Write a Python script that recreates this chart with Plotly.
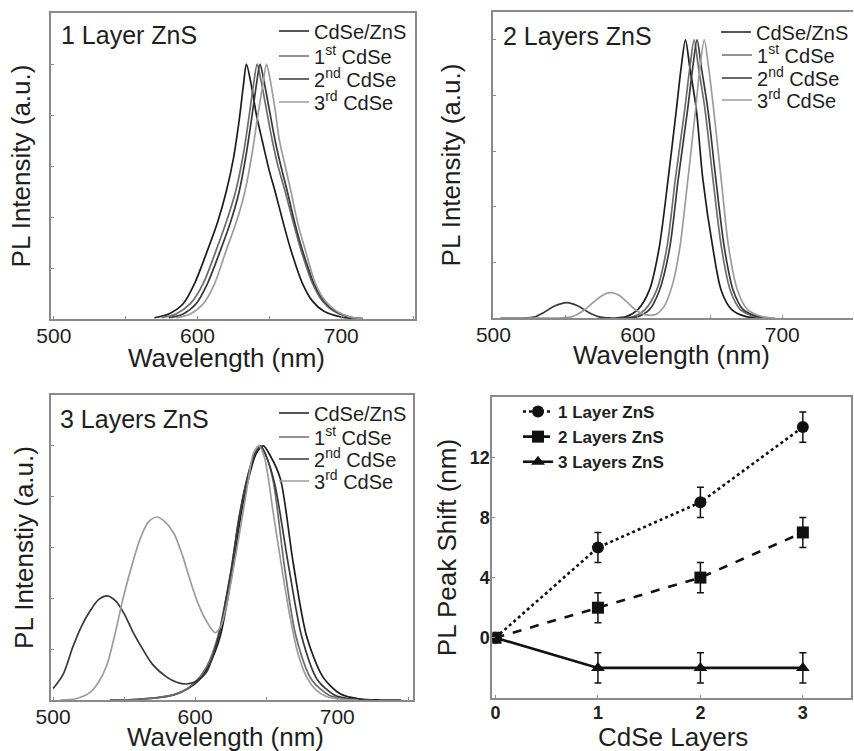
import plotly.graph_objects as go

# ---------------- PL spectra: 1 layer ZnS ----------------
wl_1L_core = [570, 580, 590, 598, 607, 614, 620, 625, 629, 632, 634, 637, 641, 645, 650, 654, 660, 665, 673, 680, 688, 700, 710]
pl_1L_core = [0.005, 0.02, 0.06, 0.14, 0.27, 0.38, 0.50, 0.63, 0.78, 0.92, 1.00, 0.93, 0.80, 0.70, 0.58, 0.50, 0.37, 0.27, 0.14, 0.07, 0.03, 0.008, 0.002]
wl_1L_1st = [575, 585, 595, 604, 613, 620, 626.5, 632, 636, 639, 641.5, 644, 648, 652, 656, 661, 667, 672, 680, 687, 695, 705, 715]
pl_1L_1st = [0.005, 0.02, 0.06, 0.14, 0.27, 0.38, 0.50, 0.65, 0.80, 0.92, 1.00, 0.94, 0.82, 0.70, 0.60, 0.50, 0.37, 0.27, 0.14, 0.07, 0.03, 0.008, 0.002]
wl_1L_2nd = [580, 590, 599, 607, 616, 623, 629, 634, 638, 641, 643.5, 646, 650, 654, 658, 662.5, 668, 673, 681, 688, 696, 706, 715]
pl_1L_2nd = [0.005, 0.02, 0.06, 0.14, 0.27, 0.38, 0.50, 0.65, 0.80, 0.92, 1.00, 0.94, 0.82, 0.70, 0.60, 0.50, 0.37, 0.27, 0.14, 0.07, 0.03, 0.008, 0.002]
wl_1L_3rd = [585, 595, 604, 612, 620, 627, 633, 638, 642, 645.5, 648, 650.5, 654, 657, 661, 665, 670, 675, 682, 689, 697, 706, 715]
pl_1L_3rd = [0.005, 0.02, 0.06, 0.14, 0.27, 0.38, 0.50, 0.65, 0.80, 0.92, 1.00, 0.94, 0.82, 0.70, 0.60, 0.50, 0.37, 0.27, 0.14, 0.07, 0.03, 0.008, 0.002]

# ---------------- PL spectra: 2 layers ZnS ----------------
wl_2L_core = [585, 592, 600, 608, 614.7, 621, 626.7, 630, 633, 636, 640.5, 645, 652, 657.7, 665, 675, 685]
pl_2L_core = [0, 0.005, 0.03, 0.10, 0.25, 0.50, 0.75, 0.90, 1.00, 0.90, 0.75, 0.50, 0.25, 0.10, 0.03, 0.005, 0]
wl_2L_1st = [590, 597, 605, 613, 620, 626, 632.5, 636, 639, 642, 646.5, 652, 658, 664, 671, 681, 690]
pl_2L_1st = [0, 0.005, 0.03, 0.10, 0.25, 0.50, 0.75, 0.90, 1.00, 0.90, 0.75, 0.50, 0.25, 0.10, 0.03, 0.005, 0]
wl_2L_2nd = [505, 520, 528, 535, 542, 551, 559, 566, 574, 582, 593, 600, 608, 615, 622, 628, 634.5, 638, 641, 644, 648.5, 654, 660, 666, 673, 683, 692]
pl_2L_2nd = [0, 0, 0.003, 0.02, 0.042, 0.055, 0.042, 0.02, 0.003, 0, 0, 0.005, 0.03, 0.10, 0.25, 0.50, 0.75, 0.90, 1.00, 0.90, 0.75, 0.50, 0.25, 0.10, 0.03, 0.005, 0]
wl_2L_3rd = [505, 545, 554, 562, 570, 576, 581, 587, 593, 599, 605, 612, 618, 624, 629, 634.7, 640, 643, 646, 649, 652.5, 657.7, 663, 669, 676, 686, 695]
pl_2L_3rd = [0, 0, 0.004, 0.025, 0.06, 0.083, 0.091, 0.082, 0.055, 0.027, 0.012, 0.012, 0.04, 0.12, 0.25, 0.50, 0.75, 0.90, 1.00, 0.90, 0.75, 0.50, 0.25, 0.10, 0.03, 0.005, 0]

# ---------------- PL spectra: 3 layers ZnS ----------------
wl_3L_core = [540, 560, 575, 585, 595, 603, 610, 617.6, 626, 632, 638, 643, 648, 653, 660, 669, 678.5, 690, 702, 715, 730, 745]
pl_3L_core = [0, 0.003, 0.01, 0.02, 0.045, 0.08, 0.14, 0.25, 0.50, 0.72, 0.88, 0.97, 1.00, 0.96, 0.87, 0.54, 0.25, 0.09, 0.025, 0.005, 0, 0]
wl_3L_1st = [540, 560, 575, 590, 600, 608, 616, 625, 631, 637, 642, 646, 650, 655, 663, 671, 682, 694, 708, 725]
pl_3L_1st = [0, 0.003, 0.01, 0.03, 0.07, 0.13, 0.25, 0.50, 0.72, 0.88, 0.97, 1.00, 0.96, 0.86, 0.52, 0.25, 0.08, 0.02, 0.003, 0]
wl_3L_2nd = [500, 507, 514, 520, 526, 532, 538, 544, 550, 556, 561, 570, 580, 587, 594, 601, 608, 616, 625, 631, 637, 642, 646, 650, 656, 666, 675, 686, 698, 712, 725]
pl_3L_2nd = [0.045, 0.10, 0.21, 0.29, 0.35, 0.395, 0.41, 0.39, 0.34, 0.27, 0.22, 0.14, 0.09, 0.07, 0.063, 0.075, 0.11, 0.24, 0.50, 0.72, 0.88, 0.97, 1.00, 0.96, 0.85, 0.52, 0.25, 0.08, 0.02, 0.003, 0]
wl_3L_3rd = [505, 516, 526, 532, 538, 544, 549.5, 555, 561, 567, 573, 579, 585, 591, 596.5, 602, 608, 614, 618, 622, 627, 632, 637, 641, 645, 649, 655, 661, 666.7, 672, 678.5, 685, 692, 702, 715]
pl_3L_3rd = [0, 0.005, 0.03, 0.07, 0.14, 0.27, 0.405, 0.52, 0.63, 0.70, 0.72, 0.70, 0.656, 0.57, 0.47, 0.38, 0.31, 0.265, 0.29, 0.37, 0.52, 0.68, 0.85, 0.97, 1.00, 0.95, 0.735, 0.52, 0.33, 0.19, 0.09, 0.04, 0.015, 0.004, 0]

# ---------------- PL peak shift vs. number of CdSe layers ----------------
cdse_layers = [0, 1, 2, 3]
shift_1L = [0, 6, 9, 14]
shift_2L = [0, 2, 4, 7]
shift_3L = [0, -2, -2, -2]
shift_err = [0, 1, 1, 1]

series_names = ["CdSe/ZnS", "1<sup>st</sup> CdSe", "2<sup>nd</sup> CdSe", "3<sup>rd</sup> CdSe"]
series_colors = ["#1c1c1c", "#6c6c6c", "#383838", "#9c9c9c"]

W, H = 854, 751
FONT = "Liberation Sans, Arial, sans-serif"
TXT = "#1e1e1e"
FRAME = "#8a8a8a"


def px_x(p):
    return p / W


def px_y(p):
    return 1 - p / H


fig = go.Figure()

# one legend box per spectrum entry so the rows sit at fixed heights
panels = [
    ("x", "y", 274, [31, 56, 79, 102],
     [(wl_1L_core, pl_1L_core), (wl_1L_1st, pl_1L_1st), (wl_1L_2nd, pl_1L_2nd), (wl_1L_3rd, pl_1L_3rd)]),
    ("x2", "y2", 717, [32, 55, 78, 100],
     [(wl_2L_core, pl_2L_core), (wl_2L_1st, pl_2L_1st), (wl_2L_2nd, pl_2L_2nd), (wl_2L_3rd, pl_2L_3rd)]),
    ("x3", "y3", 274, [413, 437, 459, 481],
     [(wl_3L_core, pl_3L_core), (wl_3L_1st, pl_3L_1st), (wl_3L_2nd, pl_3L_2nd), (wl_3L_3rd, pl_3L_3rd)]),
]
leg_layout = {}
leg_base = dict(xanchor="left", yanchor="middle", bgcolor="rgba(0,0,0,0)", borderwidth=0,
                itemwidth=30, font=dict(family=FONT, size=20, color=TXT))
n = 0
for xa, ya, lx, rows, curves in panels:
    for (wl, pl), name, col, ry in zip(curves, series_names, series_colors, rows):
        n += 1
        lid = "legend" if n == 1 else f"legend{n}"
        leg_layout[lid] = dict(**leg_base, x=px_x(lx), y=px_y(ry))
        fig.add_trace(go.Scatter(
            x=wl, y=pl, mode="lines", name=name, xaxis=xa, yaxis=ya, legend=lid,
            line=dict(color=col, width=1.7, shape="spline", smoothing=0.8),
            hoverinfo="skip",
        ))

shift_series = [
    ("1 Layer ZnS", shift_1L, "circle", "dot"),
    ("2 Layers ZnS", shift_2L, "square", "dash"),
    ("3 Layers ZnS", shift_3L, "triangle-up", "solid"),
]
for i, (name, vals, sym, dash) in enumerate(shift_series):
    fig.add_trace(go.Scatter(
        x=cdse_layers, y=vals, mode="lines+markers", name=name,
        xaxis="x4", yaxis="y4", legend="legend13", legendgroup=f"g{i}",
        line=dict(color="#111", width=2.6, dash=dash),
        marker=dict(color="#111", size=12, symbol=sym),
        error_y=dict(type="data", array=shift_err, visible=True,
                     thickness=1.5, width=3.5, color="#111"),
    ))
leg_layout["legend13"] = dict(xanchor="left", yanchor="top", bgcolor="rgba(0,0,0,0)", borderwidth=0,
                              itemwidth=30, tracegroupgap=0,
                              font=dict(family=FONT, size=17, color=TXT, weight="bold"),
                              x=px_x(518), y=px_y(394))

axis_common = dict(
    showline=True, mirror=True, linecolor=FRAME, linewidth=2,
    ticks="inside", ticklen=3, tickcolor=FRAME, tickwidth=1,
    showgrid=False, zeroline=False, automargin=False, ticklabelstandoff=-3,
    tickfont=dict(family=FONT, size=21, color=TXT),
    title_font=dict(family=FONT, size=26, color=TXT),
)
bold_ticks = dict(family=FONT, size=18, color=TXT, weight="bold")
wl_ticks = dict(tickvals=[500, 550, 600, 650, 700, 750], ticktext=["500", "", "600", "", "700", ""])
int_ticks = dict(tickvals=[0.2, 0.4, 0.6, 0.8, 1.0], showticklabels=False)

fig.update_layout(
    width=W, height=H, margin=dict(l=0, r=0, t=0, b=0),
    paper_bgcolor="white", plot_bgcolor="white", showlegend=True,
    xaxis=dict(**axis_common, **wl_ticks, domain=[px_x(51), px_x(415)], range=[498, 751], anchor="y"),
    yaxis=dict(**axis_common, **int_ticks, domain=[px_y(319), px_y(13)], range=[0, 1.2],
               anchor="x", title=dict(text="PL Intensity (a.u.)", standoff=11)),
    # the top-right panel runs off the right edge of the page: no right-hand frame line
    xaxis2=dict(**axis_common, **wl_ticks, domain=[px_x(494), 1.0], range=[500, 749], anchor="y2"),
    yaxis2=dict(**{**axis_common, "mirror": False}, **int_ticks, domain=[px_y(318), px_y(12)], range=[0, 1.1],
                anchor="x2", title=dict(text="PL Intensity (a.u.)", standoff=23)),
    xaxis3=dict(**axis_common, **wl_ticks, domain=[px_x(51), px_x(413)], range=[498.5, 753], anchor="y3"),
    yaxis3=dict(**axis_common, **int_ticks, domain=[px_y(700), px_y(395)], range=[0, 1.2],
                anchor="x3", title=dict(text="PL Intenstiy (a.u.)", standoff=8)),
    xaxis4=dict(**{**axis_common, "tickfont": bold_ticks},
                tickvals=[0, 1, 2, 3], domain=[px_x(493), px_x(852)], range=[-0.03, 3.47], anchor="y4"),
    yaxis4=dict(**{**axis_common, "tickfont": bold_ticks},
                tickvals=[0, 4, 8, 12], domain=[px_y(698), px_y(397)], range=[-4, 16],
                anchor="x4", title=dict(text="PL Peak Shift (nm)", standoff=6)),
    **leg_layout,
)

# x-axis titles placed just under each panel's tick labels
x_titles = [("Wavelength (nm)", 227, 358), ("Wavelength (nm)", 672, 355),
            ("Wavelength (nm)", 226, 737), ("CdSe Layers", 674, 737)]
for text, xp, yp in x_titles:
    fig.add_annotation(text=text, x=px_x(xp), y=px_y(yp), xref="paper", yref="paper",
                       xanchor="center", yanchor="middle", showarrow=False,
                       font=dict(family=FONT, size=26, color=TXT))

panel_titles = [("1 Layer ZnS", 59, 35), ("2 Layers ZnS", 502, 36), ("3 Layers ZnS", 58, 419)]
for text, xp, yp in panel_titles:
    fig.add_annotation(text=text, x=px_x(xp), y=px_y(yp), xref="paper", yref="paper",
                       xanchor="left", yanchor="middle", showarrow=False,
                       font=dict(family=FONT, size=25, color=TXT))

fig.write_html("out.html")
